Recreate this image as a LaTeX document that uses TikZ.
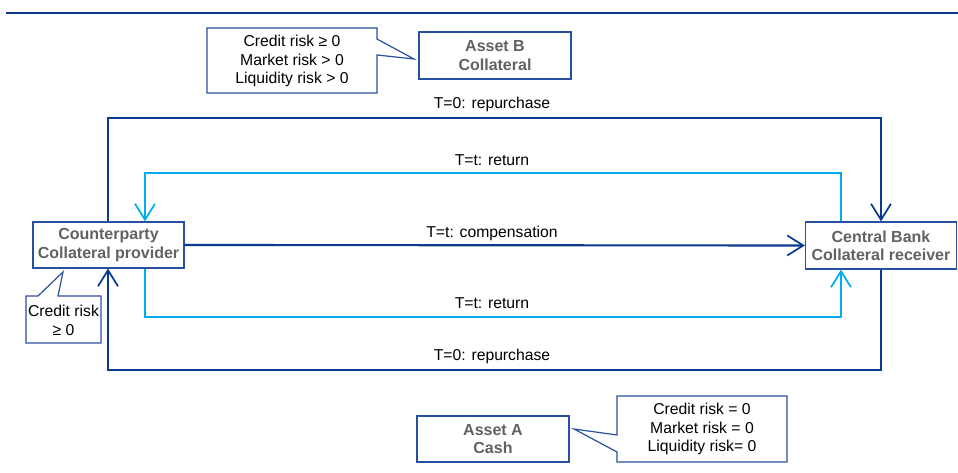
\documentclass[tikz,border=0pt]{standalone}
\usepackage{fontspec}
\setmainfont{Liberation Sans}
\usetikzlibrary{arrows.meta}
\definecolor{dblue}{RGB}{10,58,145}
\definecolor{bblue}{RGB}{40,80,160}
\definecolor{lblue}{RGB}{0,174,239}
\definecolor{tgray}{RGB}{98,98,98}
\tikzset{
  box/.style={draw=bblue, line width=0.9pt, fill=white, inner sep=0pt, align=center,
    font=\fontsize{12}{13.8}\selectfont\bfseries, text=tgray},
  note/.style={inner sep=0pt, align=center, font=\fontsize{11.8}{14.2}\selectfont, text=black},
  callout/.style={draw=bblue, line width=0.9pt, fill=white, line join=miter},
  lab/.style={inner sep=0pt, font=\fontsize{11.8}{13}\selectfont, text=black},
  darkflow/.style={draw=dblue, line width=1.6pt, -{Straight Barb[length=12pt,width=15pt,line width=1.3pt]}},
  lightflow/.style={draw=lblue, line width=1.6pt, -{Straight Barb[length=12pt,width=15pt,line width=1.3pt]}},
}
\begin{document}
\begin{tikzpicture}[x=0.75pt,y=-0.75pt]
\useasboundingbox (0,0) rectangle (958,473);
% top rule
\coordinate (ruleL) at (6,13);
\coordinate (ruleR) at (958,13);
\draw[dblue, line width=2pt] (ruleL) -- (ruleR);

% main boxes
\node[box, minimum width=151*0.75pt, minimum height=46*0.75pt] (cp) at (108.5,245) {Counterparty\\Collateral provider};
\node[box, minimum width=151*0.75pt, minimum height=47*0.75pt] (cb) at (881,245.5) {Central Bank\\Collateral receiver};
\node[box, minimum width=152*0.75pt, minimum height=47*0.75pt] (ab) at (495,55.5) {Asset B\\Collateral};
\node[box, minimum width=152*0.75pt, minimum height=46*0.75pt] (aa) at (493,439) {Asset A\\Cash};

% callouts
\draw[callout] (207,28) -- (377,28) -- (377,39) -- (414,59) -- (377,55) -- (377,93) -- (207,93) -- cycle;
\node[note] (n1) at (292,61) {Credit risk ≥ 0\\Market risk > 0\\Liquidity risk > 0};

\draw[callout] (617,396) -- (787,396) -- (787,462) -- (617,462) -- (617,452) -- (574,429) -- (617,435) -- cycle;
\node[note] (n2) at (702,429) {Credit risk = 0\\Market risk = 0\\Liquidity risk= 0};

\draw[callout] (26,296) -- (38,296) -- (63,272) -- (58,296) -- (101,296) -- (101,343) -- (26,343) -- cycle;
\node[note] (n3) at (63.5,320) {Credit risk\\≥ 0};

% flows
\coordinate (t1) at (108,118);
\coordinate (t2) at (881,118);
\draw[darkflow] (cp.north -| t1) -- (t1) -- (t2) -- (cb.north -| t2);
\node[lab] (l1) at (492,104) {T=0: repurchase};

\coordinate (r1) at (841,173);
\coordinate (r2) at (145,173);
\draw[lightflow] (cb.north -| r1) -- (r1) -- (r2) -- (cp.north -| r2);
\node[lab] (l2) at (492,160) {T=t: return};

\draw[darkflow] (cp.east) -- (cb.west);
\node[lab] (l3) at (492,233) {T=t: compensation};

\coordinate (b1) at (145,317);
\coordinate (b2) at (841,317);
\draw[lightflow] (cp.south -| b1) -- (b1) -- (b2) -- (cb.south -| b2);
\node[lab] (l4) at (492,303) {T=t: return};

\coordinate (d1) at (881,370);
\coordinate (d2) at (108,370);
\draw[darkflow] (cb.south -| d1) -- (d1) -- (d2) -- (cp.south -| d2);
\node[lab] (l5) at (492,356) {T=0: repurchase};
\end{tikzpicture}
\end{document}
